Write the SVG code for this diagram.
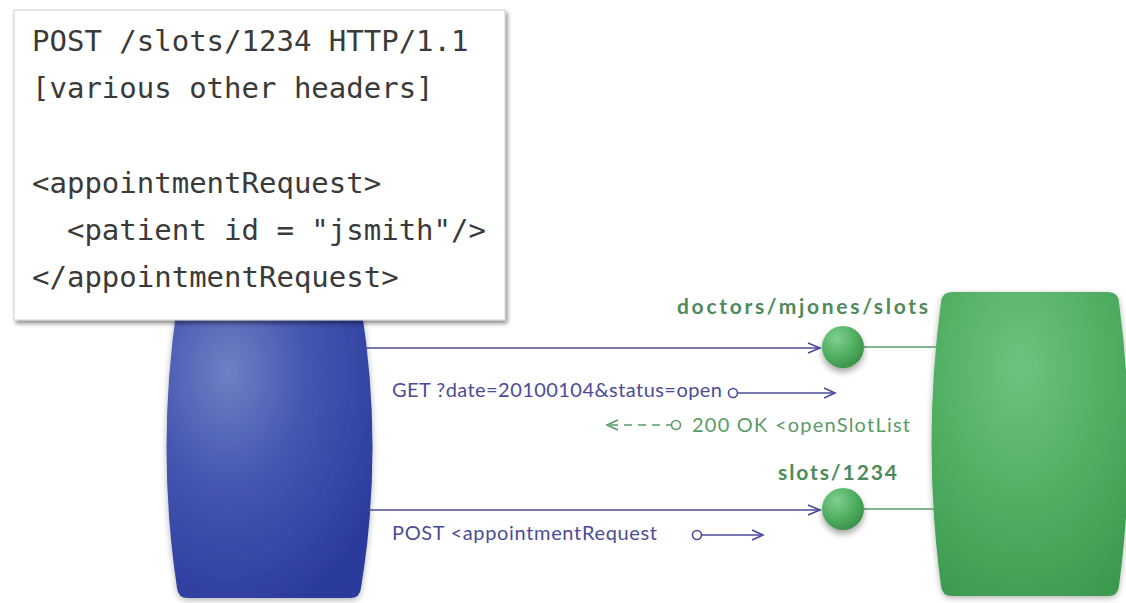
<svg xmlns="http://www.w3.org/2000/svg" width="1126" height="603" viewBox="0 0 1126 603">
<defs>
  <radialGradient id="blueFill" cx="0.3" cy="0.25" r="0.85">
    <stop offset="0" stop-color="#6f7fc4"/>
    <stop offset="0.45" stop-color="#4556b0"/>
    <stop offset="1" stop-color="#2a3a9c"/>
  </radialGradient>
  <radialGradient id="greenFill" cx="0.45" cy="0.25" r="0.85">
    <stop offset="0" stop-color="#6cc47e"/>
    <stop offset="0.5" stop-color="#52b063"/>
    <stop offset="1" stop-color="#3b9a4e"/>
  </radialGradient>
  <radialGradient id="ballFill" cx="0.35" cy="0.3" r="0.75">
    <stop offset="0" stop-color="#7fd08e"/>
    <stop offset="0.6" stop-color="#4fae60"/>
    <stop offset="1" stop-color="#3a9048"/>
  </radialGradient>
  <filter id="boxShadow" x="-5%" y="-5%" width="112%" height="115%">
    <feDropShadow dx="2" dy="3" stdDeviation="2" flood-color="#000" flood-opacity="0.45"/>
  </filter>
  <filter id="softShadow" x="-15%" y="-10%" width="130%" height="120%">
    <feDropShadow dx="0" dy="2" stdDeviation="3" flood-color="#000" flood-opacity="0.3"/>
  </filter>
  <filter id="ballShadow" x="-40%" y="-40%" width="180%" height="200%">
    <feDropShadow dx="0" dy="4" stdDeviation="3" flood-color="#000" flood-opacity="0.35"/>
  </filter>
  <style>
    .code { font-family: "DejaVu Sans Mono", "Liberation Mono", monospace; font-size: 29px; fill: #3a3a3a; }
    .lbl { font-family: Lato, "Liberation Sans", sans-serif; font-size: 20px; }
    .blueT { fill: #4c4c96; }
    .greenT { fill: #5a9a68; }
    .res { font-family: Lato, "Liberation Sans", sans-serif; font-weight: bold; font-size: 21px; fill: #4e8a5c; }
    .bl { stroke: #4a4a9a; stroke-width: 1.6; fill: none; }
    .gl { stroke: #5a9a68; stroke-width: 1.6; fill: none; }
    .dot { fill: #fff; stroke-width: 1.6; }
  </style>
</defs>
<rect width="1126" height="603" fill="#ffffff"/>

<g id="client">
  <path d="M188,296 L350,296 Q360,296 361,306 Q384,448 361,588 Q360,598 350,598 L188,598 Q178,598 177,588 Q156,448 177,306 Q178,296 188,296 Z" fill="url(#blueFill)" filter="url(#softShadow)"/>
</g>

<g id="server">
  <path d="M952,292 L1108,292 Q1118,292 1119,302 Q1138,444 1119,586 Q1118,596 1108,596 L952,596 Q942,596 941,586 Q922,444 941,302 Q942,292 952,292 Z" fill="url(#greenFill)" filter="url(#softShadow)"/>
</g>

<g id="request-box">
  <rect x="14" y="10" width="491" height="310" fill="#ffffff" stroke="#d0d0d0" stroke-width="1" filter="url(#boxShadow)"/>
  <text class="code" x="32" y="51">POST /slots/1234 HTTP/1.1</text>
  <text class="code" x="32" y="98">[various other headers]</text>
  <text class="code" x="32" y="193">&lt;appointmentRequest&gt;</text>
  <text class="code" x="32" y="240" xml:space="preserve">  &lt;patient id = "jsmith"/&gt;</text>
  <text class="code" x="32" y="287">&lt;/appointmentRequest&gt;</text>
</g>

<g id="connectors">
  <!-- client to doctors/mjones/slots -->
  <line class="bl" x1="366" y1="348" x2="820" y2="348"/>
  <polyline class="bl" points="808,343 820,348 808,353"/>
  <line class="gl" x1="864" y1="347" x2="936" y2="347"/>
  <!-- GET message -->
  <line class="bl" x1="738" y1="393" x2="835" y2="393"/>
  <polyline class="bl" points="824,388 835,393 824,398"/>
  <circle class="dot" cx="733" cy="393" r="4.5" stroke="#4a4a9a"/>
  <!-- 200 OK response -->
  <line class="gl" x1="610" y1="425" x2="671" y2="425" stroke-dasharray="8,6"/>
  <polyline class="gl" points="618,420 607,425 618,430"/>
  <circle class="dot" cx="676" cy="425" r="4.5" stroke="#5a9a68"/>
  <!-- client to slots/1234 -->
  <line class="bl" x1="368" y1="510" x2="820" y2="510"/>
  <polyline class="bl" points="808,505 820,510 808,515"/>
  <line class="gl" x1="864" y1="509" x2="934" y2="509"/>
  <!-- POST message -->
  <line class="bl" x1="702" y1="535" x2="763" y2="535"/>
  <polyline class="bl" points="752,530 763,535 752,540"/>
  <circle class="dot" cx="697" cy="535" r="4.5" stroke="#4a4a9a"/>
  <text class="lbl blueT" x="392" y="397" textLength="330">GET ?date=20100104&amp;status=open</text>
  <text class="lbl greenT" x="692" y="432" textLength="218">200 OK &lt;openSlotList</text>
  <text class="lbl blueT" x="392" y="540" textLength="265">POST &lt;appointmentRequest</text>
</g>

<g id="resource-doctors-slots">
  <circle cx="843" cy="347" r="21" fill="url(#ballFill)" filter="url(#ballShadow)"/>
  <text class="res" x="677" y="314" textLength="251">doctors/mjones/slots</text>
</g>

<g id="resource-slot-1234">
  <circle cx="843" cy="509" r="21" fill="url(#ballFill)" filter="url(#ballShadow)"/>
  <text class="res" x="778" y="480" textLength="119">slots/1234</text>
</g>
</svg>
